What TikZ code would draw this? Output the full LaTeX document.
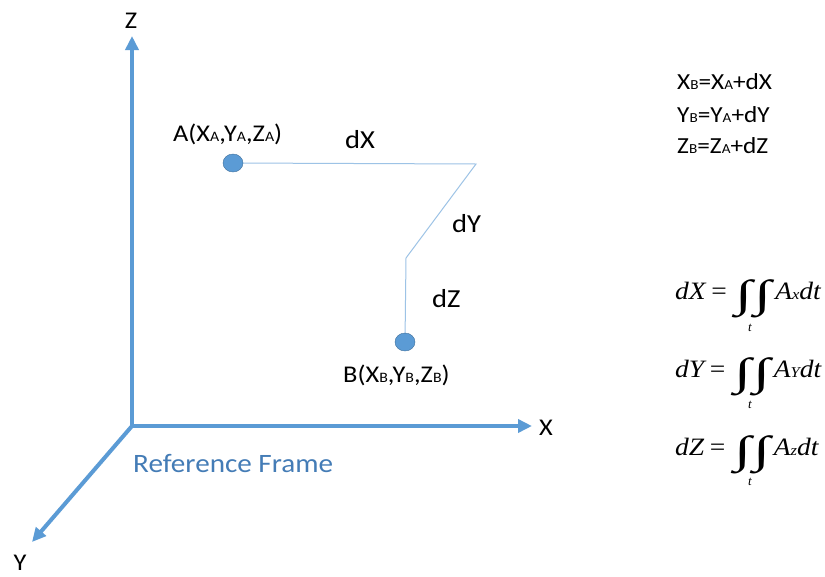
\documentclass[tikz,border=0pt]{standalone}
\usepackage{amsmath}
\usepackage{graphicx}
\usepackage{fontspec}
\setmainfont{Carlito}
\newfontfamily\tms{Liberation Serif}
\usetikzlibrary{arrows.meta,shapes.geometric}
\definecolor{axisblue}{RGB}{91,155,213}
\definecolor{refblue}{RGB}{68,124,182}
\definecolor{pathblue}{RGB}{157,195,230}
\definecolor{dotedge}{RGB}{65,113,156}
\newcommand\lo[1]{\raisebox{-0.8pt}{\scalebox{0.6}{#1}}}
\newcommand\wide[1]{\scalebox{1.1}[1]{#1}}
\newcommand\dint{\raisebox{-8pt}{\scalebox{1.45}[1.0]{\fontsize{39}{39}\selectfont\upshape ∫\kern1.5pt∫}}}
\begin{document}
\begin{tikzpicture}[x=1pt,y=-1pt,
  axis/.style={draw=axisblue, line width=4pt, -{Triangle[length=14pt,width=13pt]}},
  dotnode/.style={ellipse, fill=axisblue, draw=dotedge, line width=0.4pt, minimum width=20pt, minimum height=18pt, inner sep=0pt},
  lbl/.style={font=\fontsize{24}{24}\selectfont, inner sep=0pt, anchor=base west},
  dlbl/.style={font=\fontsize{26}{26}\selectfont, inner sep=0pt, anchor=base west},
  axlbl/.style={font=\fontsize{24}{24}\selectfont, inner sep=0pt},
  rel/.style={font=\fontsize{23}{23}\selectfont, inner sep=0pt, anchor=base west},
  integ/.style={font=\fontsize{25}{25}\selectfont\tms\itshape, inner sep=0pt, anchor=base west},
  tsub/.style={font=\fontsize{13}{13}\selectfont\tms\itshape, inner sep=0pt},
  pathline/.style={draw=pathblue, line width=1pt}
]
\useasboundingbox[fill=white] (0,0) rectangle (825,576);
% axes
\coordinate (O) at (132,426);
\coordinate (Zt) at (132,36);
\coordinate (Xt) at (532,426);
\coordinate (Yt) at (32,542);
\draw[axis] (O) -- (Zt);
\draw[axis] (O) -- (Xt);
\draw[axis] (O) -- (Yt);
\node[axlbl] (zl) at (131,21) {\wide{Z}};
\node[axlbl] (xl) at (546,428) {\wide{X}};
\node[axlbl] (yl) at (20,563) {\wide{Y}};
\node[font=\fontsize{26.5}{26.5}\selectfont, text=refblue, inner sep=0pt, anchor=base west] (rf) at (133,472) {\wide{Reference Frame}};
% path
\coordinate (c1) at (476,164);
\coordinate (c2) at (406,258);
\coordinate (pa) at (233,163);
\coordinate (pb) at (405,342);
\draw[pathline] (pa) -- (c1) -- (c2) -- (pb);
\node[dotnode] (A) at (pa) {};
\node[dotnode] (B) at (pb) {};
\node[lbl] (al) at (173,141) {\wide{A(X\lo{A},Y\lo{A},Z\lo{A})}};
\node[lbl] (bl) at (343,382) {\wide{B(X\lo{B},Y\lo{B},Z\lo{B})}};
\node[dlbl] (dx) at (345,148) {\wide{dX}};
\node[dlbl] (dy) at (452,232) {\wide{dY}};
\node[dlbl] (dz) at (432,307) {\wide{dZ}};
% relations
\node[rel] (r1) at (677,89) {\wide{X\lo{B}=X\lo{A}+dX}};
\node[rel] (r2) at (677,122) {\wide{Y\lo{B}=Y\lo{A}+dY}};
\node[rel] (r3) at (677,153) {\wide{Z\lo{B}=Z\lo{A}+dZ}};
% integrals
\node[integ] (i1) at (675,299) {\wide{dX\kern5pt\upshape=\kern8pt\dint\kern3pt\itshape A\lo{x}dt}};
\node[integ] (i2) at (675,377) {\wide{dY\kern5pt\upshape=\kern8pt\dint\kern3pt\itshape A\lo{Y}dt}};
\node[integ] (i3) at (675,455) {\wide{dZ\kern5pt\upshape=\kern8pt\dint\kern3pt\itshape A\lo{z}dt}};
\node[tsub] (t1) at (750,328) {t};
\node[tsub] (t2) at (750,405) {t};
\node[tsub] (t3) at (750,482) {t};
\end{tikzpicture}
\end{document}
